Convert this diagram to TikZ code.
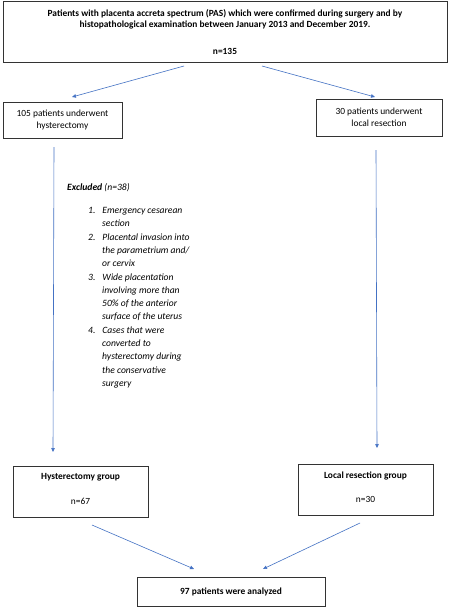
\documentclass[tikz,border=0pt]{standalone}
\usepackage{fontspec}
\setmainfont{Carlito}
\usetikzlibrary{arrows.meta}
\definecolor{arrowblue}{RGB}{68,114,196}
\begin{document}
\begin{tikzpicture}[x=1pt,y=-1pt,
  box/.style={draw=black!80,line width=0.8pt,inner sep=0pt,font=\fontsize{9.4}{11.5}\selectfont,align=center},
  conn/.style={draw=arrowblue,line width=0.6pt,-{Triangle[length=4pt,width=3.5pt]}}]
\useasboundingbox[fill=white] (0,0) rectangle (450,610);
% boxes
\node[box,minimum width=444pt,minimum height=61pt] (top) at (225,31.5) {};
\node[font=\fontsize{9.4}{11}\selectfont\bfseries,align=center] (toptxt) at (225,19.5)
  {Patients with placenta accreta spectrum (PAS) which were confirmed during surgery and by\\histopathological examination between January 2013 and December 2019.};
\node[font=\fontsize{9.4}{11}\selectfont\bfseries] (topn) at (225,51) {n=135};

\node[box,minimum width=119pt,minimum height=36pt,align=center] (hyst) at (62.5,120)
  {105 patients underwent\\hysterectomy};
\node[box,minimum width=126pt,minimum height=37pt,align=center] (loc) at (379,117.5)
  {30 patients underwent\\local resection};

\node[box,minimum width=135pt,minimum height=51pt] (hg) at (80.5,491.5) {};
\node[font=\fontsize{9.4}{11}\selectfont\bfseries] (hgt) at (80.5,477) {Hysterectomy group};
\node[font=\fontsize{9.4}{11}\selectfont] (hgn) at (80.5,501) {n=67};

\node[box,minimum width=135pt,minimum height=51pt] (lg) at (365.5,489.5) {};
\node[font=\fontsize{9.4}{11}\selectfont\bfseries] (lgt) at (365.5,476) {Local resection group};
\node[font=\fontsize{9.4}{11}\selectfont] (lgn) at (365.5,499) {n=30};

\node[box,minimum width=188pt,minimum height=29pt,font=\fontsize{9.4}{11}\selectfont\bfseries] (fin) at (231,591.5) {97 patients were analyzed};

% excluded list
\node[anchor=north west,inner sep=0pt,font=\fontsize{9.6}{13.3}\selectfont\itshape,align=left] (excl) at (67,183)
  {\textbf{Excluded} (n=38)\\[10pt]
  \hspace*{21pt}1.\hspace*{7pt}Emergency cesarean\\
  \hspace*{35pt}section\\
  \hspace*{21pt}2.\hspace*{7pt}Placental invasion into\\
  \hspace*{35pt}the parametrium and/\\
  \hspace*{35pt}or cervix\\
  \hspace*{21pt}3.\hspace*{7pt}Wide placentation\\
  \hspace*{35pt}involving more than\\
  \hspace*{35pt}50\% of the anterior\\
  \hspace*{35pt}surface of the uterus\\
  \hspace*{21pt}4.\hspace*{7pt}Cases that were\\
  \hspace*{35pt}converted to\\
  \hspace*{35pt}hysterectomy during\\
  \hspace*{35pt}the conservative\\
  \hspace*{35pt}surgery};

% connector endpoints
\coordinate (a1s) at (184,66);  \coordinate (a1e) at (72,97);
\coordinate (a2s) at (262,66);  \coordinate (a2e) at (375,97);
\coordinate (a3s) at (54,147);  \coordinate (a3e) at (53,452);
\coordinate (a4s) at (376,150); \coordinate (a4e) at (377,448);
\coordinate (a5s) at (92,525);  \coordinate (a5e) at (194,569);
\coordinate (a6s) at (360,523); \coordinate (a6e) at (263,569);

\draw[conn] (a1s) -- (a1e);
\draw[conn] (a2s) -- (a2e);
\draw[conn] (a3s) -- (a3e);
\draw[conn] (a4s) -- (a4e);
\draw[conn] (a5s) -- (a5e);
\draw[conn] (a6s) -- (a6e);
\end{tikzpicture}
\end{document}
